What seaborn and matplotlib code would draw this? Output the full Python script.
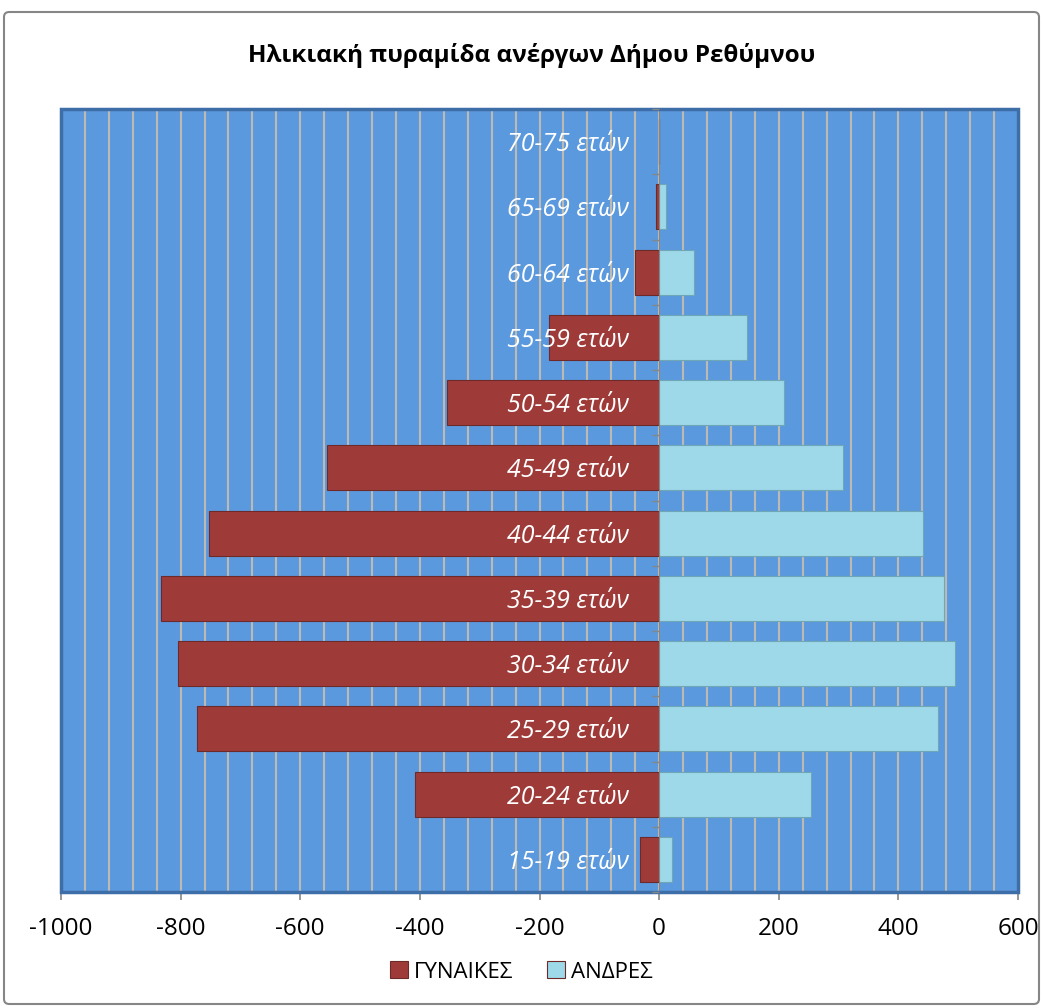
import numpy as np
import pandas as pd
import seaborn as sns
import matplotlib.pyplot as plt
from matplotlib.ticker import MultipleLocator, FixedLocator
from matplotlib.patches import FancyBboxPatch, Rectangle

#==============================================================================
# data
age_groups = ['15-19 ετών', '20-24 ετών', '25-29 ετών', '30-34 ετών', '35-39 ετών',
              '40-44 ετών', '45-49 ετών', '50-54 ετών', '55-59 ετών', '60-64 ετών',
              '65-69 ετών', '70-75 ετών']
women = [32, 408, 772, 805, 833, 752, 555, 354, 184, 41, 5, 0]
men = [22, 254, 467, 494, 477, 441, 307, 209, 147, 59, 11, 0]
sex_labels = ['ΓΥΝΑΙΚΕΣ', 'ΑΝΔΡΕΣ']
x_ticks = [-1000, -800, -600, -400, -200, 0, 200, 400, 600]
title = 'Ηλικιακή πυραμίδα ανέργων Δήμου Ρεθύμνου'

#==============================================================================
df = pd.DataFrame({
    'age': age_groups * 2,
    'sex': [sex_labels[0]] * len(age_groups) + [sex_labels[1]] * len(age_groups),
    'value': [-w for w in women] + men,
})

fig = plt.figure(figsize=(10.43, 10.08), dpi=100)
plt.rcParams['font.family'] = ['Open Sans', 'DejaVu Sans']
ax = fig.add_axes([61 / 1043, 1 - 892 / 1008, 957 / 1043, 783 / 1008])
ax.set_facecolor('#5B99DE')

sns.barplot(data=df, x='value', y='age', hue='sex', order=age_groups[::-1],
            hue_order=sex_labels, dodge=False, width=0.69, saturation=1,
            palette=['#9E3B39', '#9DD9E8'], edgecolor='#6E2A28', linewidth=0.8,
            ax=ax, zorder=3)
# edge colour for the light bars
for patch in ax.patches:
    if patch.get_x() >= 0 and patch.get_width() > 0:
        patch.set_edgecolor('#6FA7B6')

ax.set_xlim(-1000, 600)
ax.set_xticks(x_ticks)
ax.set_xticklabels([str(t) for t in x_ticks])
ax.xaxis.set_minor_locator(MultipleLocator(40))
ax.grid(which='both', axis='x', color='#BDB9B3', linewidth=1.5)
ax.set_axisbelow(True)
ax.yaxis.set_zorder(6)   # category labels sit over the bars
ax.set_xlabel('')
ax.set_ylabel('')

# category axis crosses at zero
ax.spines['left'].set_position(('data', 0))
ax.spines['left'].set_color('#868686')
ax.spines['left'].set_zorder(4)
ax.spines['bottom'].set_color('#868686')
ax.spines['bottom'].set_linewidth(1.5)
ax.spines['top'].set_visible(False)
ax.spines['right'].set_visible(False)
ax.yaxis.set_minor_locator(FixedLocator(np.arange(-0.5, len(age_groups), 1)))
ax.tick_params(axis='y', which='major', length=0, pad=22, labelcolor='white', labelsize=18)
ax.tick_params(axis='y', which='minor', length=5, color='#868686', width=1)
ax.tick_params(axis='x', which='major', length=6, color='#868686', width=1.2, pad=12, labelsize=17.5)
ax.tick_params(axis='x', which='minor', length=0)
for lbl in ax.get_yticklabels():
    lbl.set_fontstyle('italic')

# plot area edge
ax.add_patch(Rectangle((0, 0), 1, 1, transform=ax.transAxes, fill=False,
                       edgecolor='#3E6EA8', linewidth=2.5, zorder=5, clip_on=False))

ax.get_legend().remove()
handles, labels = ax.get_legend_handles_labels()
fig.legend(handles, labels, loc='center', bbox_to_anchor=(0.5, 1 - 972 / 1008), ncol=2,
           frameon=False, fontsize=16, handlelength=0.8, handleheight=0.8,
           handletextpad=0.3, columnspacing=1.5)

fig.text(0.51, 1 - 55 / 1008, title, ha='center', va='center', fontsize=17.5, fontweight='bold')

# chart border
fig.patches.append(FancyBboxPatch((4 / 1043, 4 / 1008), 1035 / 1043, 992 / 1008,
                                  boxstyle='round,pad=0,rounding_size=0.005',
                                  transform=fig.transFigure, fill=False,
                                  edgecolor='#868686', linewidth=1.5))

fig.savefig('out.png', dpi=100)
